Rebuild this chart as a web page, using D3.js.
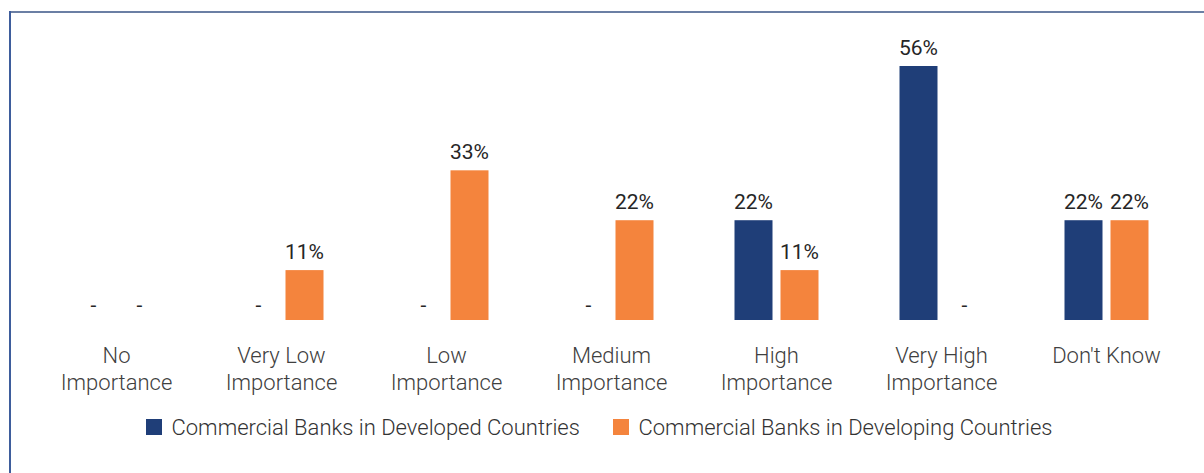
<!DOCTYPE html>
<html>
<head>
<meta charset="utf-8">
<script src="https://cdn.jsdelivr.net/npm/d3@7/dist/d3.min.js"></script>
<style>
  html, body { margin: 0; padding: 0; background: #fff; }
  svg { display: block; font-family: Roboto, "Noto Sans", sans-serif; }
</style>
</head>
<body>
<svg id="chart" width="1204" height="473"></svg>
<script>
// Importance ratings, share of respondents (%)
const categories = [
  ["No", "Importance"],
  ["Very Low", "Importance"],
  ["Low", "Importance"],
  ["Medium", "Importance"],
  ["High", "Importance"],
  ["Very High", "Importance"],
  ["Don't Know"]
];
const seriesNames = [
  "Commercial Banks in Developed Countries",
  "Commercial Banks in Developing Countries"
];
const developed  = [0, 0, 0, 0, 22, 56, 22];
const developing = [0, 11, 33, 22, 11, 0, 22];
const seriesColors = ["#1f3e78", "#f4843d"];

const svg = d3.select("#chart");
const W = 1204, H = 473;

// frame (only top and left edges fall inside the view)
svg.append("line").attr("x1", 10).attr("x2", W).attr("y1", 12).attr("y2", 12)
  .attr("stroke", "#6b7fa4").attr("stroke-width", 2);
svg.append("line").attr("x1", 10).attr("x2", 10).attr("y1", 11).attr("y2", H)
  .attr("stroke", "#3e5d9c").attr("stroke-width", 2);

const baseline = 320;
const y = d3.scaleLinear().domain([0, 56]).range([baseline, baseline - 254]);

const catIdx = d3.range(categories.length);
const x0 = d3.scaleBand().domain(catIdx).range([34, 1189]).padding(0);
const x1 = d3.scaleBand().domain([0, 1]).range([-42, 42]).paddingInner(8 / 46).paddingOuter(0);

const rows = catIdx.map(i => ({ i, vals: [developed[i], developing[i]] }));

const groups = svg.append("g").selectAll("g")
  .data(rows).join("g")
  .attr("transform", d => `translate(${x0(d.i) + x0.bandwidth() / 2},0)`);

groups.selectAll("rect")
  .data(d => d.vals.map((v, s) => ({ v, s })).filter(e => e.v > 0))
  .join("rect")
  .attr("x", e => x1(e.s))
  .attr("width", x1.bandwidth())
  .attr("y", e => y(e.v))
  .attr("height", e => baseline - y(e.v))
  .attr("fill", e => seriesColors[e.s]);

groups.selectAll("text.val")
  .data(d => d.vals.map((v, s) => ({ v, s })))
  .join("text")
  .attr("class", "val")
  .attr("x", e => x1(e.s) + x1.bandwidth() / 2)
  .attr("y", e => y(e.v) - (e.v === 0 ? 8 : 11))
  .attr("text-anchor", "middle")
  .attr("font-size", 21)
  .attr("fill", "#262626")
  .text(e => e.v === 0 ? "-" : e.v + "%");

// category labels
const catLabels = svg.append("g").selectAll("text")
  .data(rows).join("text")
  .attr("x", d => x0(d.i) + x0.bandwidth() / 2)
  .attr("y", 363)
  .attr("text-anchor", "middle")
  .attr("font-size", 22)
  .attr("font-weight", 300)
  .attr("fill", "#404040");
catLabels.selectAll("tspan")
  .data(d => categories[d.i])
  .join("tspan")
  .attr("x", function () { return this.parentNode.getAttribute("x"); })
  .attr("dy", (t, j) => j === 0 ? 0 : 26.7)
  .text(t => t);

// legend
const legendX = [146, 613];
const legend = svg.append("g").selectAll("g")
  .data(seriesNames).join("g")
  .attr("transform", (d, s) => `translate(${legendX[s]},419)`);
legend.append("rect").attr("width", 16).attr("height", 16)
  .attr("fill", (d, s) => seriesColors[s]);
legend.append("text").attr("x", 25.5).attr("y", 16)
  .attr("font-size", 22).attr("font-weight", 300).attr("fill", "#333")
  .text(d => d);
</script>
</body>
</html>
